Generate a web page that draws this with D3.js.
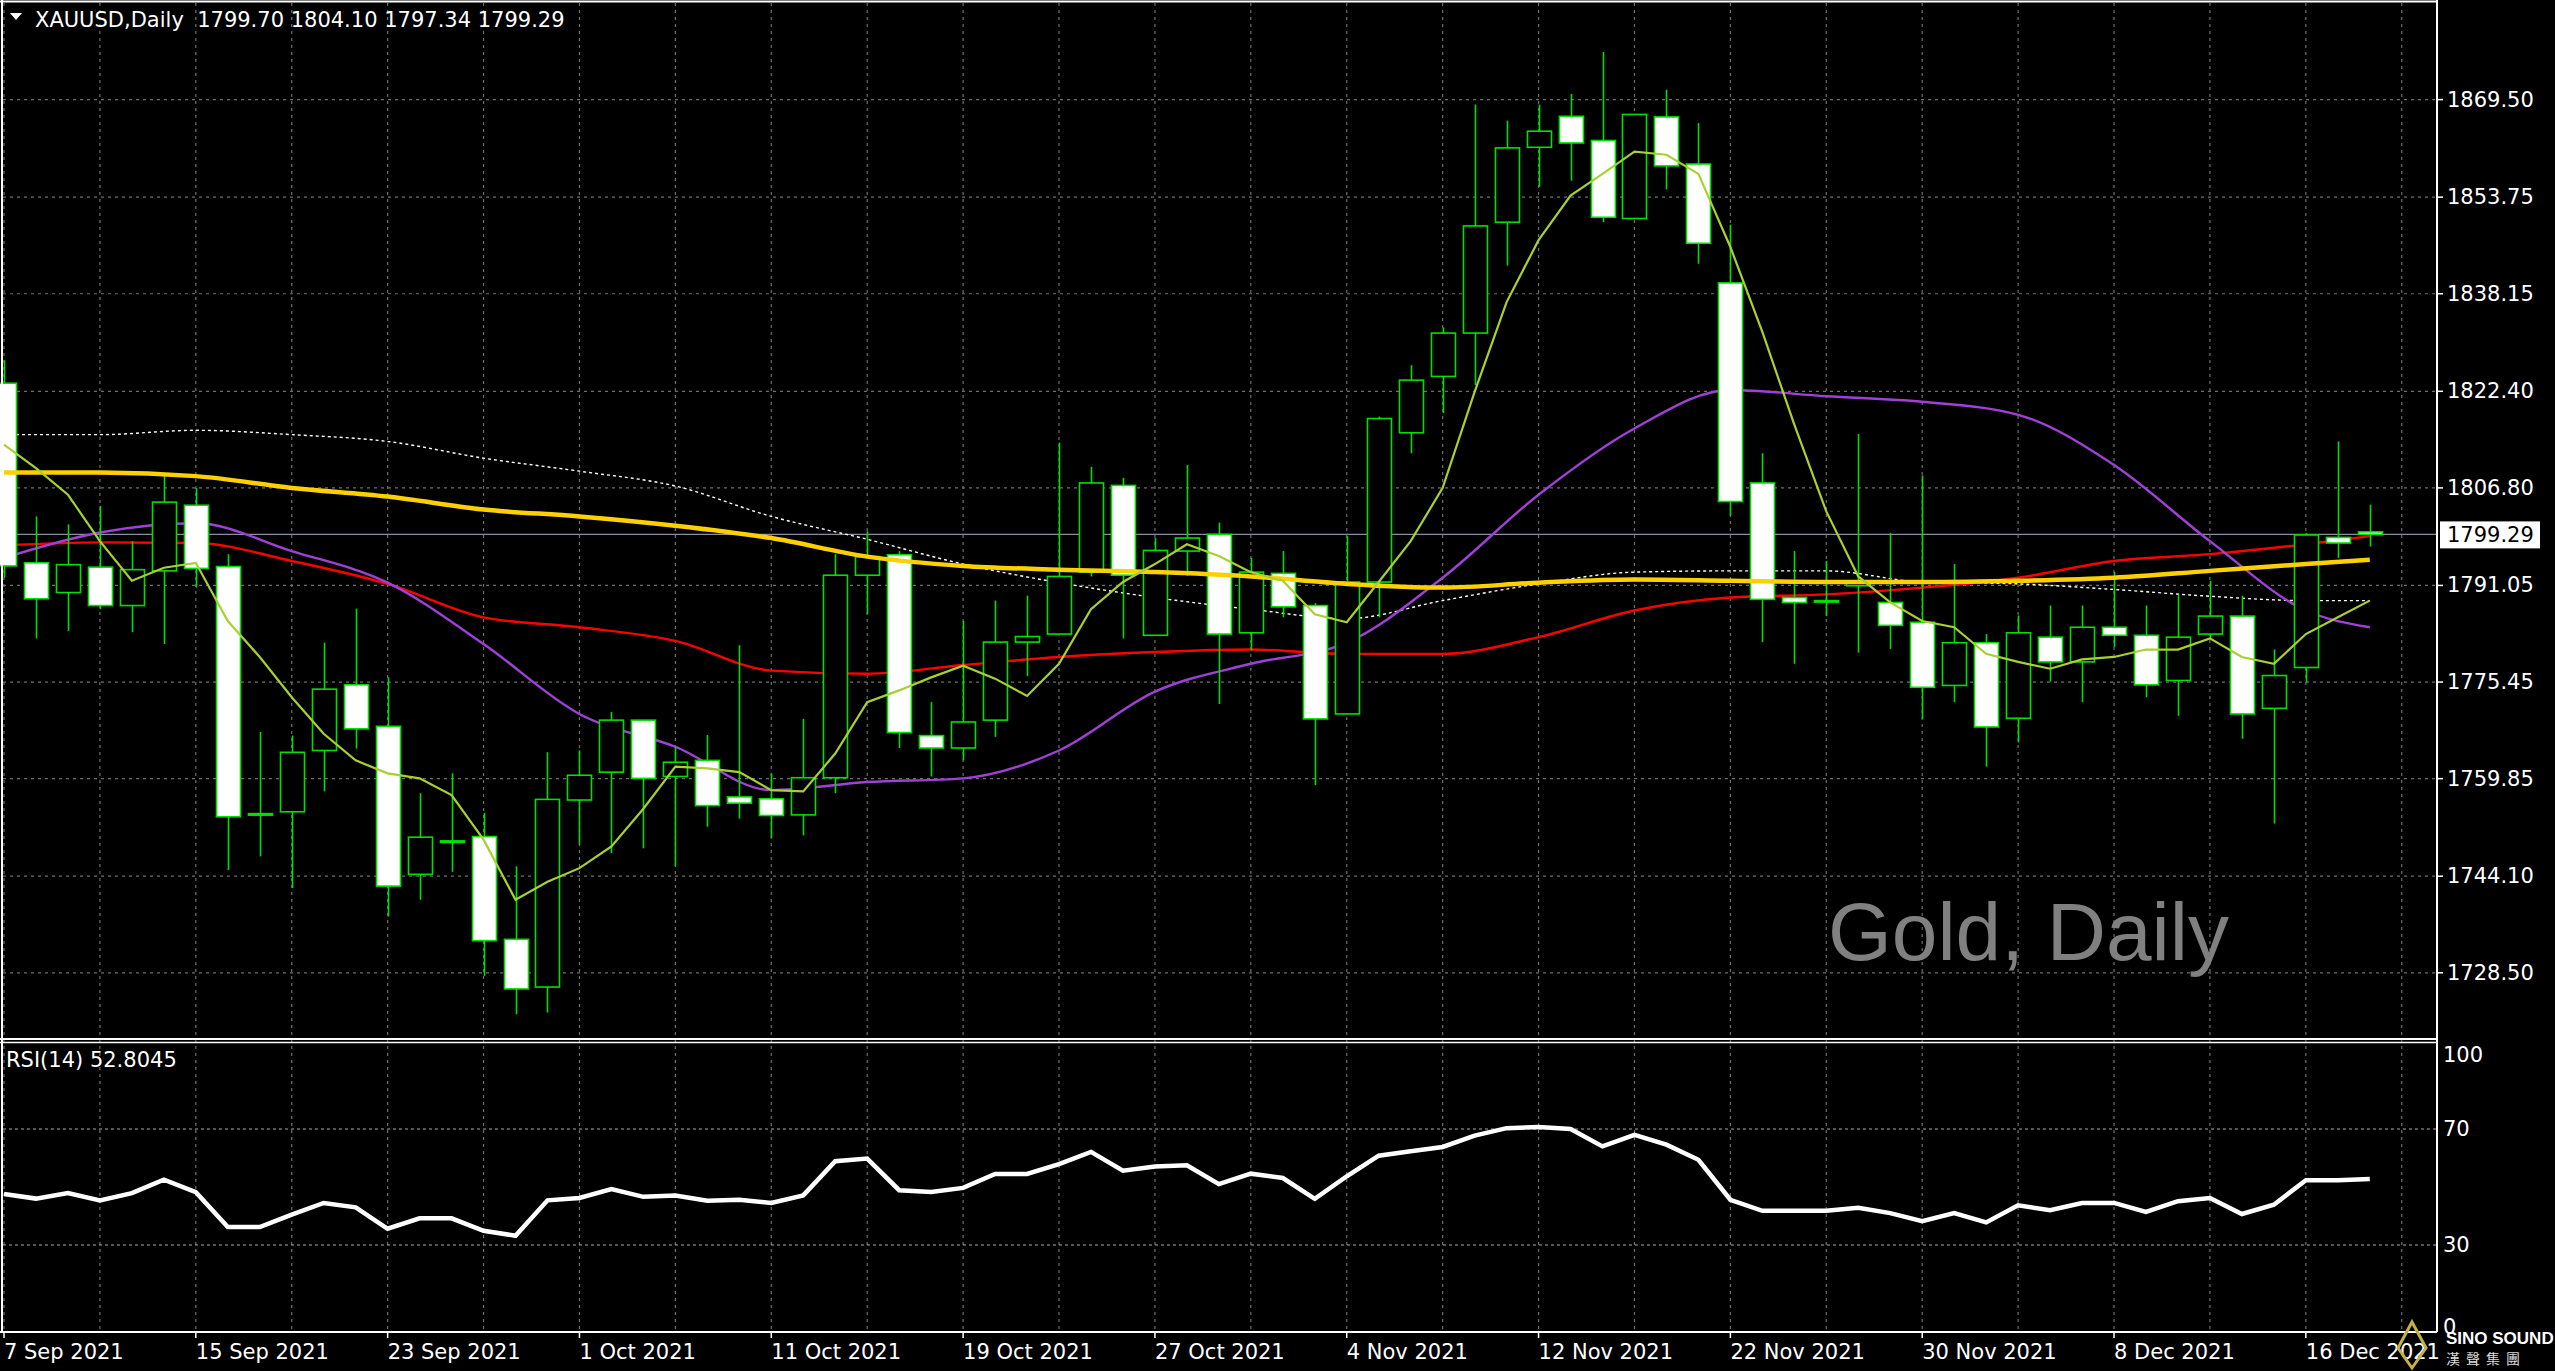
<!DOCTYPE html>
<html><head><meta charset="utf-8">
<script src="https://cdn.jsdelivr.net/npm/d3@7"></script>
<style>body{margin:0;background:#000;overflow:hidden}svg{display:block}</style>
</head><body>
<svg id="chart" width="2555" height="1371"></svg>
<script>
// daily bars: open, high, low, close
var opens  = [1823.7,1794.7,1789.9,1794.0,1787.8,1793.4,1804.0,1794.1,1754.2,1754.5,1764.4,1775.0,1768.3,1744.4,1749.8,1750.5,1733.9,1726.2,1756.4,1760.9,1769.3,1760.2,1762.8,1756.9,1756.6,1754.0,1760.0,1792.7,1796.0,1766.8,1764.8,1769.3,1781.9,1783.2,1793.2,1807.2,1783.0,1796.6,1799.3,1783.4,1793.0,1787.8,1770.3,1791.6,1815.7,1824.8,1831.8,1849.7,1861.8,1866.8,1862.9,1850.3,1866.7,1859.1,1839.9,1807.6,1789.1,1788.5,1791.0,1788.3,1785.1,1774.9,1781.8,1769.6,1782.7,1778.7,1784.3,1783.0,1775.7,1783.2,1786.1,1771.2,1777.8,1798.8,1799.7];
var highs  = [1827.4,1802.2,1800.9,1803.9,1798.2,1808.8,1806.8,1796.1,1767.4,1766.8,1781.8,1787.3,1776.2,1757.5,1760.7,1754.3,1745.7,1764.1,1764.4,1770.6,1769.3,1765.0,1766.9,1781.4,1760.7,1769.5,1796.1,1799.8,1796.6,1772.2,1785.3,1788.6,1789.4,1814.1,1810.2,1808.4,1798.7,1810.5,1801.2,1795.5,1796.6,1788.2,1799.0,1818.3,1826.6,1832.7,1868.7,1866.1,1868.7,1870.4,1877.2,1867.1,1871.1,1865.7,1849.3,1812.4,1796.6,1795.0,1815.5,1799.5,1808.8,1794.5,1783.2,1786.2,1787.8,1787.8,1793.2,1787.8,1789.6,1791.8,1789.4,1780.7,1799.5,1814.3,1804.1];
var lows   = [1792.3,1782.5,1783.7,1787.2,1783.5,1781.6,1790.7,1745.1,1747.3,1742.2,1757.8,1764.7,1737.6,1740.3,1744.8,1728.0,1721.8,1722.1,1749.2,1747.8,1748.6,1745.7,1752.1,1753.4,1750.3,1750.7,1757.5,1786.4,1764.8,1760.2,1762.8,1766.6,1776.4,1783.2,1792.5,1782.5,1783.0,1792.6,1771.9,1780.5,1785.9,1758.8,1770.3,1785.9,1812.4,1818.9,1823.4,1842.7,1855.4,1856.4,1849.7,1850.3,1855.0,1843.0,1802.3,1781.9,1778.4,1786.1,1780.2,1780.8,1769.5,1772.2,1761.8,1765.7,1775.5,1772.2,1781.1,1773.0,1770.0,1782.5,1766.3,1752.6,1775.4,1795.5,1797.34];
var closes = [1794.2,1788.9,1794.4,1787.8,1793.6,1804.5,1793.8,1753.7,1754.0,1764.1,1774.3,1767.9,1742.5,1750.4,1749.8,1733.7,1725.9,1756.5,1760.4,1769.3,1759.9,1762.5,1755.5,1755.9,1753.9,1760.0,1792.7,1795.7,1767.3,1764.8,1769.0,1781.9,1782.8,1792.5,1807.6,1792.7,1796.7,1798.7,1783.2,1793.2,1787.6,1769.5,1791.6,1818.0,1824.2,1831.8,1849.1,1861.7,1864.4,1862.5,1850.5,1867.1,1858.8,1846.3,1804.6,1788.8,1788.3,1788.6,1791.7,1784.6,1774.6,1781.8,1768.2,1783.4,1778.7,1784.3,1783.0,1775.0,1782.7,1786.1,1770.3,1776.5,1799.2,1797.9,1799.29];

// moving averages
var maFast = [1813.8,1810.0,1805.7,1798.2,1791.8,1793.9,1794.7,1785.3,1779.5,1773.0,1767.1,1762.8,1760.7,1759.9,1757.2,1750.0,1740.3,1743.2,1745.4,1748.9,1755.0,1761.8,1761.5,1760.9,1758.0,1757.8,1763.9,1772.2,1774.1,1776.2,1778.1,1776.0,1773.2,1778.4,1787.2,1791.6,1794.5,1797.7,1795.8,1793.2,1791.8,1786.4,1785.1,1791.6,1798.2,1806.8,1822.3,1836.8,1846.8,1854.0,1857.5,1861.1,1860.6,1857.5,1845.7,1832.0,1817.0,1803.0,1792.5,1788.3,1785.3,1784.3,1780.0,1778.7,1777.6,1779.1,1779.5,1780.7,1780.7,1782.5,1779.5,1778.4,1783.2,1785.9,1788.6];
var sampleIdx = [0,3,6,9,12,15,18,21,24,27,30,33,36,39,42,45,48,51,54,57,60,63,66,69,72,74];
var maPurple = [1795.5,1799.6,1801.1,1796.6,1791.5,1781.6,1770.3,1765.0,1758.0,1759.3,1759.9,1764.4,1773.9,1778.4,1781.8,1792.3,1805.7,1816.4,1822.6,1821.6,1820.7,1818.6,1810.5,1798.2,1787.0,1784.3];
var maRed    = [1797.5,1798.0,1797.9,1795.0,1791.3,1785.9,1784.3,1782.1,1777.3,1776.8,1778.2,1779.5,1780.3,1780.7,1780.0,1780.0,1782.7,1787.0,1789.1,1789.6,1790.7,1792.3,1795.0,1796.1,1797.7,1799.0];
var maGold   = [1809.3,1809.3,1808.7,1806.8,1805.4,1803.3,1802.2,1800.7,1798.7,1795.7,1794.2,1793.6,1793.2,1792.5,1791.3,1790.7,1791.5,1792.0,1791.8,1791.6,1791.6,1791.8,1792.3,1793.4,1794.5,1795.2];
var maWhite  = [1815.4,1815.4,1816.1,1815.4,1814.3,1811.6,1809.5,1807.1,1802.2,1798.5,1794.5,1791.5,1789.1,1787.2,1785.7,1788.6,1791.3,1793.2,1793.4,1793.4,1791.6,1791.3,1790.4,1789.3,1788.6,1788.6];

var rsi = [47.6,46.0,47.9,45.4,47.9,52.5,48.2,36.2,36.2,40.5,44.5,43.0,35.6,39.2,39.2,34.9,33.2,45.4,46.2,49.3,46.6,47.1,45.3,45.6,44.5,47.1,58.9,59.8,48.9,48.3,49.7,54.5,54.5,57.9,62.1,55.6,57.1,57.5,51.0,54.6,53.1,45.9,53.7,60.8,62.3,63.8,67.7,70.3,70.7,70.0,64.0,68.0,64.6,59.4,45.6,41.8,41.8,41.8,42.8,41.0,38.2,41.0,37.8,43.7,42.0,44.5,44.5,41.4,45.1,46.2,40.7,43.9,52.3,52.3,52.8];

var priceTicks = [1869.50,1853.75,1838.15,1822.40,1806.80,1791.05,1775.45,1759.85,1744.10,1728.50];
var rsiTicks = [100,70,30,0];
var dateLabels = ["7 Sep 2021","15 Sep 2021","23 Sep 2021","1 Oct 2021","11 Oct 2021","19 Oct 2021","27 Oct 2021","4 Nov 2021","12 Nov 2021","22 Nov 2021","30 Nov 2021","8 Dec 2021","16 Dec 2021"];
var lastPrice = 1799.29;

var svg = d3.select("#chart");
var W = 2555, plotR = 2437, mainTop = 3, mainBot = 1038, rsiTop = 1042, rsiBot = 1332;
var font = "Tahoma, 'DejaVu Sans', sans-serif";

var x = d3.scaleLinear().domain([0, 1]).range([4, 35.97]);
var y = d3.scaleLinear().domain([1728.5, 1869.5]).range([972.8, 99.6]);
var yr = d3.scaleLinear().domain([0, 100]).range([rsiBot, rsiTop]);

svg.append("rect").attr("width", W).attr("height", 1371).attr("fill", "#000");

// grid
var gridIdx = d3.range(0, 78, 3);
var g = svg.append("g").attr("stroke", "#6e6e6e").attr("stroke-width", 1.2).attr("stroke-dasharray", "3,4");
gridIdx.forEach(function(i){
  if (x(i) > plotR) return;
  g.append("line").attr("x1", x(i)).attr("x2", x(i)).attr("y1", mainTop).attr("y2", rsiBot);
});
priceTicks.forEach(function(p){
  g.append("line").attr("x1", 3).attr("x2", plotR).attr("y1", y(p)).attr("y2", y(p));
});
[70, 30].forEach(function(v){
  g.append("line").attr("x1", 3).attr("x2", plotR).attr("y1", yr(v)).attr("y2", yr(v)).attr("stroke", "#aaa").attr("stroke-dasharray", "3,3");
});

// current price line
svg.append("line").attr("x1", 3).attr("x2", plotR).attr("y1", y(lastPrice)).attr("y2", y(lastPrice))
  .attr("stroke", "#8a8fa8").attr("stroke-width", 1.3);

// moving average lines
function drawLine(vals, idx, color, width, dash){
  var line = d3.line().curve(idx ? d3.curveMonotoneX : d3.curveLinear)
    .x(function(d, k){ return x(idx ? idx[k] : k); }).y(function(d){ return y(d); });
  svg.append("path").attr("d", line(vals)).attr("fill", "none").attr("stroke", color)
    .attr("stroke-width", width).attr("stroke-dasharray", dash || null);
}
drawLine(maWhite, sampleIdx, "#ffffff", 1.4, "3,3");
drawLine(maRed, sampleIdx, "#ff0000", 2.4);
drawLine(maPurple, sampleIdx, "#a040d8", 2.4);

// candles
var bw = 24;
var cg = svg.append("g");
closes.forEach(function(c, i){
  var o = opens[i], cx = Math.round(x(i)) + 0.5;
  cg.append("line").attr("x1", cx).attr("x2", cx).attr("y1", y(highs[i])).attr("y2", y(lows[i]))
    .attr("stroke", "#00e000").attr("stroke-width", 1.6);
  var top = y(Math.max(o, c)), bot = y(Math.min(o, c));
  cg.append("rect").attr("x", cx - bw / 2).attr("y", top).attr("width", bw).attr("height", Math.max(bot - top, 1.5))
    .attr("fill", c < o ? "#ffffff" : "#000000").attr("stroke", "#00e000").attr("stroke-width", 1.6);
});

drawLine(maGold, sampleIdx, "#ffd000", 4.5);
drawLine(maFast, null, "#a8d030", 2.2);

// watermark
svg.append("text").attr("x", 1828).attr("y", 960).attr("font-family", "'Liberation Sans', Arial, sans-serif")
  .attr("font-size", 82).attr("fill", "#808080").text("Gold, Daily");

// frame
svg.append("line").attr("x1", 0).attr("x2", plotR).attr("y1", 1.5).attr("y2", 1.5).attr("stroke", "#fff").attr("stroke-width", 2);
svg.append("line").attr("x1", 2).attr("x2", 2).attr("y1", 0).attr("y2", rsiBot).attr("stroke", "#fff").attr("stroke-width", 2);
svg.append("line").attr("x1", plotR).attr("x2", plotR).attr("y1", 0).attr("y2", rsiBot).attr("stroke", "#fff").attr("stroke-width", 2);
svg.append("line").attr("x1", 0).attr("x2", plotR).attr("y1", 1039).attr("y2", 1039).attr("stroke", "#fff").attr("stroke-width", 2);
svg.append("line").attr("x1", 0).attr("x2", plotR).attr("y1", 1042.5).attr("y2", 1042.5).attr("stroke", "#fff").attr("stroke-width", 1.5);
svg.append("line").attr("x1", 0).attr("x2", plotR).attr("y1", rsiBot).attr("y2", rsiBot).attr("stroke", "#fff").attr("stroke-width", 2);

// rsi line
var rline = d3.line().x(function(d, i){ return x(i); }).y(function(d){ return yr(d); });
svg.append("path").attr("d", rline(rsi)).attr("fill", "none").attr("stroke", "#fff").attr("stroke-width", 4.5);

// price axis
var ax = svg.append("g").attr("font-family", font).attr("font-size", 21).attr("fill", "#fff");
priceTicks.forEach(function(p){
  svg.append("line").attr("x1", plotR).attr("x2", plotR + 6).attr("y1", y(p)).attr("y2", y(p)).attr("stroke", "#fff").attr("stroke-width", 1.5);
  ax.append("text").attr("x", 2447).attr("y", y(p) + 7).text(p.toFixed(2));
});
svg.append("rect").attr("x", 2440).attr("y", y(lastPrice) - 13).attr("width", 100).attr("height", 27).attr("fill", "#fff");
svg.append("text").attr("x", 2447).attr("y", y(lastPrice) + 8).attr("font-family", font).attr("font-size", 21)
  .attr("fill", "#000").text(lastPrice.toFixed(2));
rsiTicks.forEach(function(v){
  ax.append("text").attr("x", 2443).attr("y", yr(v) + (v == 100 ? 20 : v == 0 ? 2 : 7)).text(v);
});

// date axis
var dg = svg.append("g").attr("font-family", font).attr("font-size", 21).attr("fill", "#fff");
dateLabels.forEach(function(t, k){
  var xi = x(k * 6);
  svg.append("line").attr("x1", xi).attr("x2", xi).attr("y1", rsiBot).attr("y2", rsiBot + 6).attr("stroke", "#fff").attr("stroke-width", 1.5);
  dg.append("text").attr("x", xi).attr("y", 1359).text(t);
});

// titles
svg.append("path").attr("d", "M10,13 L22,13 L16,20 Z").attr("fill", "#fff");
svg.append("text").attr("x", 35).attr("y", 27).attr("font-family", font).attr("font-size", 21).attr("fill", "#fff")
  .attr("xml:space", "preserve").text("XAUUSD,Daily  1799.70 1804.10 1797.34 1799.29");
svg.append("text").attr("x", 6).attr("y", 1067).attr("font-family", font).attr("font-size", 21).attr("fill", "#fff")
  .text("RSI(14) 52.8045");

// logo
svg.append("path").attr("d", "M2412,1322 L2426,1348 L2412,1368 L2398,1348 Z").attr("fill", "none").attr("stroke", "#c8b040").attr("stroke-width", 3);
svg.append("text").attr("x", 2446).attr("y", 1344).attr("font-family", "'Liberation Sans Narrow', 'Liberation Sans', sans-serif").attr("font-weight", "bold")
  .attr("font-size", 17).attr("fill", "#fff").text("SINO SOUND");
svg.append("text").attr("x", 2446).attr("y", 1364).attr("font-family", "'Noto Sans CJK TC', sans-serif")
  .attr("font-size", 14).attr("letter-spacing", 6).attr("fill", "#ddd").text("漢聲集團");
</script>
</body></html>
